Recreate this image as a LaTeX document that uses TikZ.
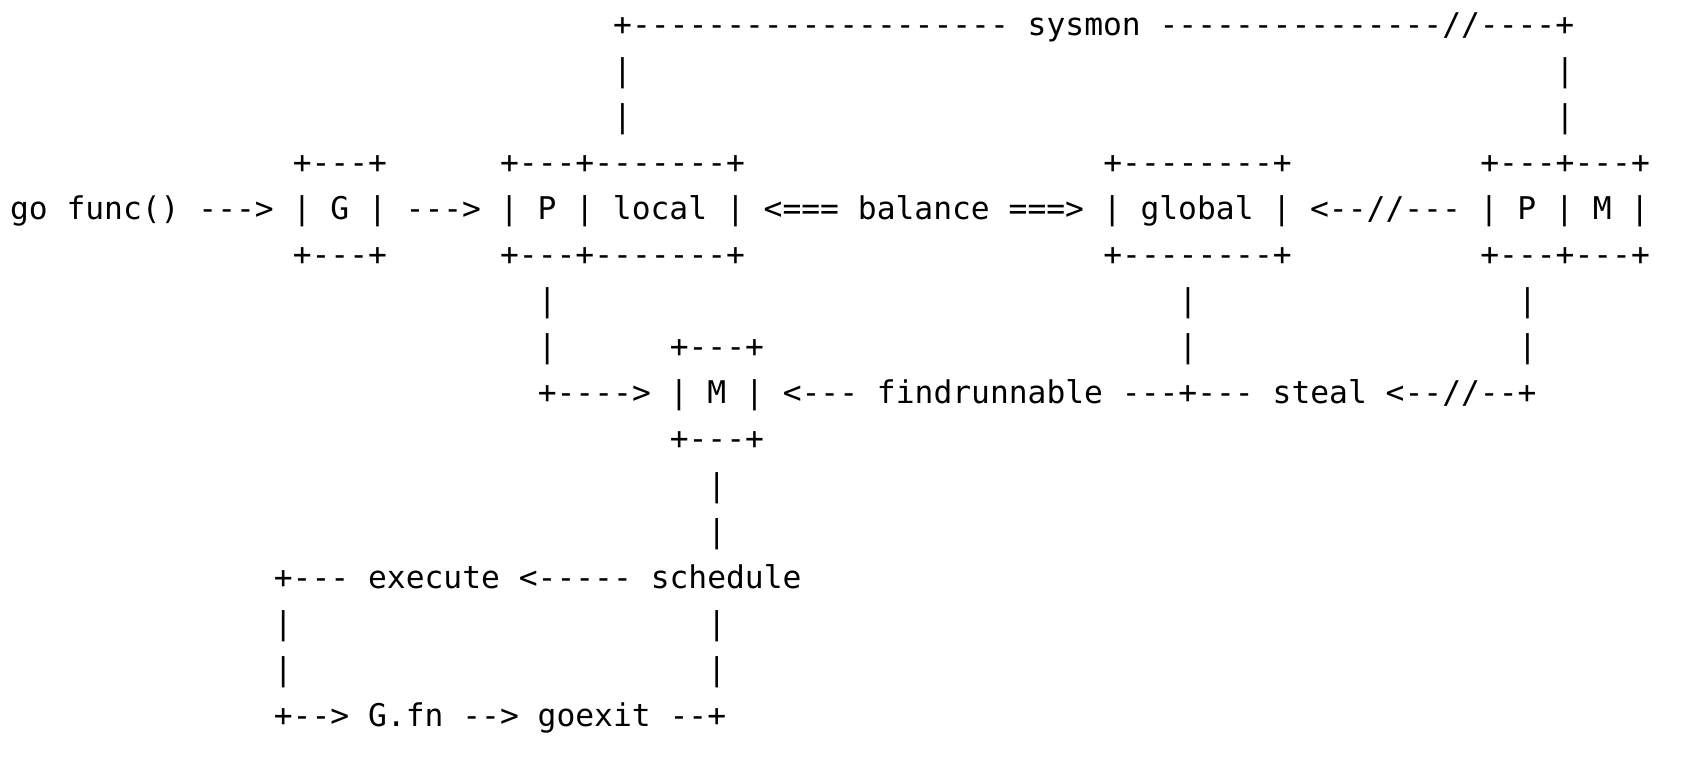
\documentclass[tikz,border=0pt]{standalone}
\usepackage{fontspec}
\setmonofont{DejaVu Sans Mono}
\tikzset{seg/.style={anchor=base west,inner sep=0pt,outer sep=0pt,font=\ttfamily\fontsize{31.3pt}{46pt}\selectfont\frenchspacing,text=black}}
\newcommand\seg[4]{%
  \pgfmathsetmacro\segx{10+#2*18.85}%
  \pgfmathsetmacro\segy{-(35+#3*46.1)}%
  \node[seg] (#1) at (\segx pt,\segy pt) {#4};}
\begin{document}
\begin{tikzpicture}
\fill[white] (0pt,0pt) rectangle (1694pt,-758pt);
\useasboundingbox (0pt,0pt) rectangle (1694pt,-758pt);
% row 0
\seg{sysmon}{32}{0}{+-------------------- sysmon ---------------//----+}
% rows 1-2
\seg{sysA}{32}{1}{|}
\seg{sysB}{82}{1}{|}
\seg{sysC}{32}{2}{|}
\seg{sysD}{82}{2}{|}
% row 3
\seg{gTop}{15}{3}{+---+}
\seg{pTop}{26}{3}{+---+-------+}
\seg{globTop}{58}{3}{+--------+}
\seg{pmTop}{78}{3}{+---+---+}
% row 4
\seg{mainline}{0}{4}{go func() ---> | G | ---> | P | local | <=== balance ===> | global | <--//--- | P | M |}
% row 5
\seg{gBot}{15}{5}{+---+}
\seg{pBot}{26}{5}{+---+-------+}
\seg{globBot}{58}{5}{+--------+}
\seg{pmBot}{78}{5}{+---+---+}
% row 6
\seg{vA}{28}{6}{|}
\seg{vB}{62}{6}{|}
\seg{vC}{80}{6}{|}
% row 7
\seg{vD}{28}{7}{|}
\seg{mTop}{35}{7}{+---+}
\seg{vE}{62}{7}{|}
\seg{vF}{80}{7}{|}
% row 8
\seg{findline}{28}{8}{+----> | M | <--- findrunnable ---+--- steal <--//--+}
% row 9
\seg{mBot}{35}{9}{+---+}
% rows 10-11
\seg{vG}{37}{10}{|}
\seg{vH}{37}{11}{|}
% row 12
\seg{execline}{14}{12}{+--- execute <----- schedule}
% rows 13-14
\seg{vI}{14}{13}{|}
\seg{vJ}{37}{13}{|}
\seg{vK}{14}{14}{|}
\seg{vL}{37}{14}{|}
% row 15
\seg{exitline}{14}{15}{+--> G.fn --> goexit --+}
\end{tikzpicture}
\end{document}
